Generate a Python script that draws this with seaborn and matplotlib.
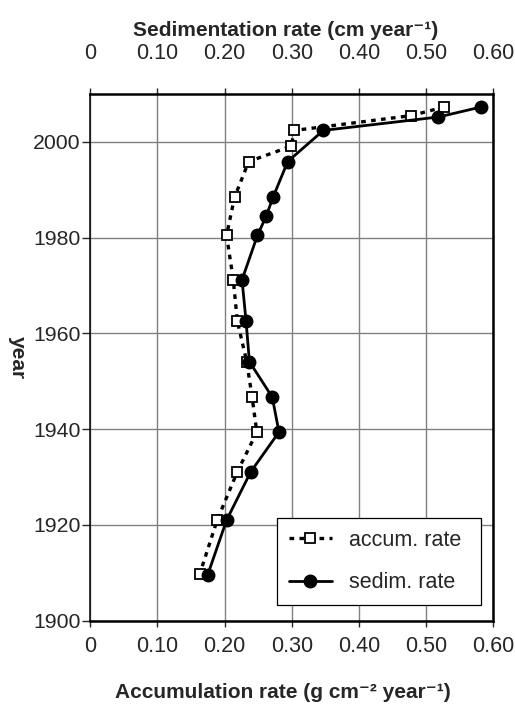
import matplotlib
matplotlib.use("Agg")
import matplotlib.pyplot as plt
import seaborn as sns
import pandas as pd

accum_years = [2007.3, 2005.5, 2002.4, 1999.1, 1995.9, 1988.5, 1980.5, 1971.2,
               1962.6, 1954.1, 1946.7, 1939.4, 1931.1, 1921.0, 1909.7]
accum_rate = [0.527, 0.478, 0.304, 0.299, 0.236, 0.215, 0.203, 0.213,
              0.219, 0.233, 0.241, 0.248, 0.219, 0.189, 0.163]
sedim_years = [2007.3, 2005.2, 2002.4, 1995.9, 1988.4, 1984.5, 1980.5, 1971.2,
               1962.6, 1954.1, 1946.7, 1939.4, 1931.1, 1921.0, 1909.6]
sedim_rate = [0.582, 0.518, 0.347, 0.294, 0.272, 0.262, 0.249, 0.226,
              0.232, 0.237, 0.271, 0.281, 0.239, 0.203, 0.175]

x_ticks = [0, 0.10, 0.20, 0.30, 0.40, 0.50, 0.60]
x_tick_labels = ["0", "0.10", "0.20", "0.30", "0.40", "0.50", "0.60"]
y_ticks = [1900, 1920, 1940, 1960, 1980, 2000]

sns.set_style("white")
plt.rcParams['font.family'] = ['Liberation Sans', 'DejaVu Sans']

fig = plt.figure(figsize=(5.15, 7.06), dpi=100)
ax = fig.add_axes([0.175, 0.1208, 0.783, 0.746])

df_a = pd.DataFrame({"rate": accum_rate, "year": accum_years})
df_s = pd.DataFrame({"rate": sedim_rate, "year": sedim_years})

sns.lineplot(data=df_a, x="rate", y="year", ax=ax, sort=False, estimator=None,
             color="black", lw=2.4, linestyle=(0, (1.4, 1.6)),
             marker="s", markersize=7.5, markerfacecolor="white",
             markeredgecolor="black", markeredgewidth=1.3,
             label="accum. rate", zorder=3)
sns.lineplot(data=df_s, x="rate", y="year", ax=ax, sort=False, estimator=None,
             color="black", lw=2.0, linestyle="-",
             marker="o", markersize=9, markerfacecolor="black",
             markeredgecolor="black", markeredgewidth=1,
             label="sedim. rate", zorder=4)

ax.set_xlim(0, 0.60)
ax.set_ylim(1900, 2010)
ax.set_xticks(x_ticks)
ax.set_xticklabels(x_tick_labels)
ax.set_yticks(y_ticks)
ax.grid(True, color="#808080", lw=1.0)
ax.set_axisbelow(True)

ax.tick_params(axis="x", direction="out", length=4.3, width=1, pad=7,
               labelsize=15.5, bottom=True, top=False, labeltop=False)
ax.tick_params(axis="y", direction="out", length=5.8, width=1, pad=1,
               labelsize=15.3, left=True)

for side in ["top", "right", "bottom"]:
    ax.spines[side].set_linewidth(1.8)
ax.spines["left"].set_linewidth(1.1)
for s in ax.spines.values():
    s.set_color("black")

ax.set_xlabel("Accumulation rate (g cm\u207b\u00b2 year\u207b\u00b9)", fontsize=15,
              fontweight="bold")
ax.xaxis.set_label_coords(0.478, -0.137)
ax.xaxis.label.set_va("center")
ax.set_ylabel("year", fontsize=15, fontweight="bold", rotation=270)
ax.yaxis.set_label_coords(-0.181, 0.5)
ax.yaxis.label.set_va("center")
ax.yaxis.label.set_ha("center")

top = ax.secondary_xaxis("top")
top.set_xticks(x_ticks)
top.set_xticklabels(x_tick_labels)
top.tick_params(direction="out", length=4.3, width=1, pad=17.4, labelsize=15.5)
top.spines["top"].set_visible(False)
top.set_xlabel("Sedimentation rate (cm year\u207b\u00b9)", fontsize=15,
               fontweight="bold")
top.xaxis.set_label_coords(0.486, 1.1215, transform=ax.transAxes)
top.xaxis.label.set_va("center")

leg = ax.legend(loc="lower left", bbox_to_anchor=(0.463, 0.0298, 0.5065, 0.1677),
                mode="expand", borderaxespad=0, fancybox=False,
                edgecolor="black", framealpha=1, fontsize=15.5,
                handlelength=2.0, labelspacing=1.0, borderpad=0.55,
                handletextpad=0.8)
leg.get_frame().set_linewidth(0.9)

fig.savefig("out.png", dpi=100)
